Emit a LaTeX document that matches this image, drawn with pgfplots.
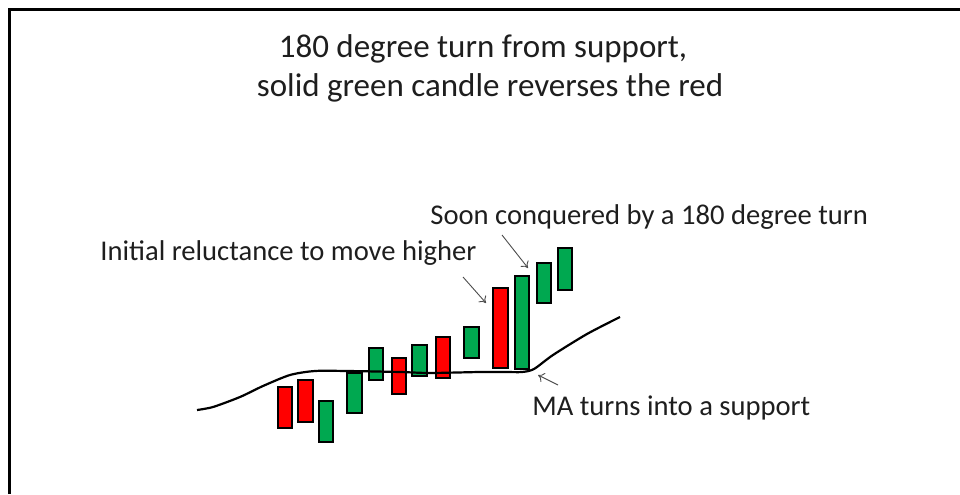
\documentclass[border=0pt]{standalone}
\usepackage{pgfplots}
\pgfplotsset{compat=1.18}
\usepackage{pgfplotstable}
\usepackage{fontspec}
\setmainfont{Carlito}
\usetikzlibrary{arrows.meta}
\definecolor{candlered}{RGB}{255,0,0}
\definecolor{candlegreen}{RGB}{0,168,80}
\definecolor{txt}{RGB}{30,30,30}

% candles: centre x, bottom, body height (pixel units, y up)
\pgfplotstableread{
x     base red green
285   66   41  0
305.5 72   42  0
326   52   0   41
354.5 81   0   40
376   114  0   32
399   100  36  0
419.5 118  0   31
443   116  41  0
471.5 136  0   31
500.5 126  80  0
522   125  0   93
544   191  0   40
565   204  0   42
}\candles

\pgfplotsset{canvas/.style={
  scale only axis,width=480pt,height=247pt,
  xmin=0,xmax=960,ymin=0,ymax=494,
  axis lines=none,clip=false,
}}

\begin{document}
\begin{tikzpicture}
\useasboundingbox (0,0) rectangle (480pt,247pt);
\begin{axis}[canvas,ybar stacked,bar width=14.5]
  \addplot[draw=none,fill=none] table[x=x,y=base] {\candles};
  \addplot[fill=candlered,draw=black,line width=0.9pt] table[x=x,y=red] {\candles};
  \addplot[fill=candlegreen,draw=black,line width=0.9pt] table[x=x,y=green] {\candles};
\end{axis}
\begin{axis}[canvas]
  % moving average
  \addplot[black,line width=1.1pt,smooth,tension=0.45] coordinates {
    (197,84) (213,87) (240,97) (263,108) (290,119) (315,123) (347,123)
    (400,122) (430,121) (480,122) (505,122) (522,122) (534,125) (553,139)
    (587,160) (620,177)
  };
  % frame (top and left only)
  \draw[black,line width=1.2pt] (axis cs:9.5,0) -- (axis cs:9.5,484.5) -- (axis cs:960,484.5);
  % annotations
  \node[anchor=base,text=txt,font=\fontsize{16.5}{20}\selectfont] at (axis cs:483,437) {180 degree turn from support,};
  \node[anchor=base,text=txt,font=\fontsize{16.5}{20}\selectfont] at (axis cs:490,397) {solid green candle reverses the red};
  \node[anchor=base west,inner sep=0pt,text=txt,font=\fontsize{14.3}{17}\selectfont] at (axis cs:100,234) {Initial reluctance to move higher};
  \node[anchor=base west,inner sep=0pt,text=txt,font=\fontsize{14.3}{17}\selectfont] at (axis cs:430,270) {Soon conquered by a 180 degree turn};
  \node[anchor=base west,inner sep=0pt,text=txt,font=\fontsize{14.3}{17}\selectfont] at (axis cs:532,79) {MA turns into a support};
  \draw[black!70,line width=0.45pt,-{To[length=3pt,width=5pt]}] (axis cs:463,217) -- (axis cs:486,191);
  \draw[black!70,line width=0.45pt,-{To[length=3pt,width=5pt]}] (axis cs:502,259) -- (axis cs:528,226);
  \draw[black!70,line width=0.45pt,-{To[length=3pt,width=5pt]}] (axis cs:558,109) -- (axis cs:538,119);
\end{axis}
\end{tikzpicture}
\end{document}
